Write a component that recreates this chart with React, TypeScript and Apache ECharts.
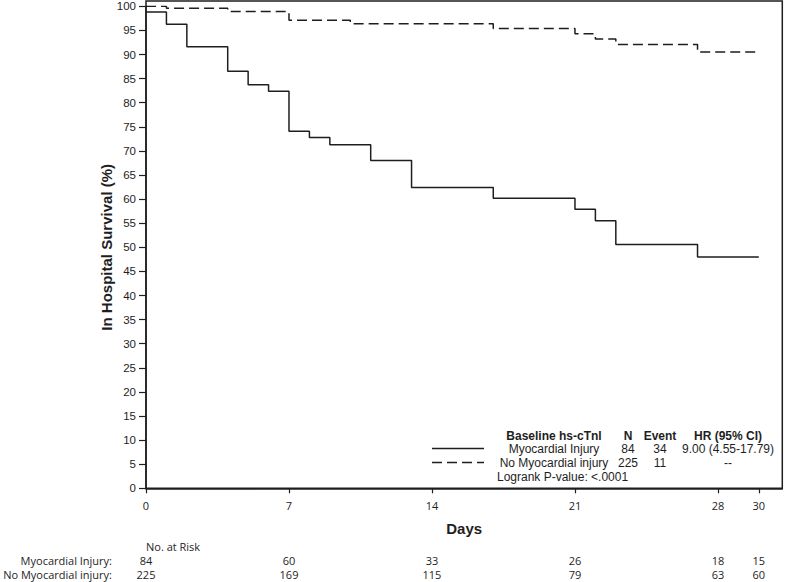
import React, { useEffect, useRef } from "react";
import * as echarts from "echarts";

// Kaplan-Meier steps: day at which the survival (%) takes the given value
const injuryDays = [0, 1, 2, 4, 5, 6, 7, 8, 9, 11, 13, 17, 21, 22, 23, 27, 30];
const injurySurvival = [98.8, 96.3, 91.6, 86.5, 83.7, 82.4, 74.1, 72.8, 71.3, 68.0, 62.4, 60.2, 57.9, 55.5, 50.6, 48.0, 48.0];

const noInjuryDays = [0, 1, 4, 7, 10, 17, 21, 22, 23, 27, 30];
const noInjurySurvival = [100, 99.6, 98.9, 97.1, 96.4, 95.4, 94.3, 93.2, 92.1, 90.5, 90.5];

// Number at risk table
const riskDays = [0, 7, 14, 21, 28, 30];
const riskInjury = [84, 60, 33, 26, 18, 15];
const riskNoInjury = [225, 169, 115, 79, 63, 60];

// Legend table
const groupNames = ["Myocardial Injury", "No Myocardial injury"];
const groupN = ["84", "225"];
const groupEvents = ["34", "11"];
const groupHR = ["9.00 (4.55-17.79)", "--"];
const legendHeader = ["Baseline hs-cTnl", "N", "Event", "HR (95% CI)"];
const logrankText = "Logrank P-value: <.0001";

const INK = "#1e1e1e";
const ARIAL = "Liberation Sans, Arial, sans-serif";
const TAHOMA = "Open Sans, sans-serif";

export default function App() {
  const ref = useRef<HTMLDivElement>(null);

  useEffect(() => {
    if (!ref.current) return;
    const chart = echarts.init(ref.current, null, { renderer: "svg" });

    const riskAxis = (values: number[], name: string, offset: number) => ({
      type: "value",
      gridIndex: 0,
      position: "bottom",
      offset,
      min: 0,
      max: 31.15,
      name,
      nameLocation: "start",
      nameGap: 34,
      nameTextStyle: { fontFamily: TAHOMA, fontSize: 11, color: INK, align: "right", verticalAlign: "middle" },
      axisLine: { show: false },
      axisTick: { show: false },
      splitLine: { show: false },
      axisLabel: {
        customValues: riskDays,
        margin: 0,
        verticalAlign: "middle",
        fontFamily: TAHOMA,
        fontSize: 11,
        color: INK,
        formatter: (v: number) => {
          const i = riskDays.indexOf(Math.round(v));
          return i >= 0 ? String(values[i]) : "";
        },
      },
    });

    const legendColX = [554, 628, 660, 728];
    const headerY = 436;
    const rowY = [449, 463];

    const legendGraphics: any[] = [];
    legendHeader.forEach((t, i) => {
      legendGraphics.push({
        type: "text",
        x: legendColX[i],
        y: headerY,
        style: { text: t, fontFamily: ARIAL, fontSize: 12, fontWeight: "bold", fill: INK, align: "center", verticalAlign: "middle" },
      });
    });
    groupNames.forEach((name, r) => {
      const cells = [name, groupN[r], groupEvents[r], groupHR[r]];
      cells.forEach((t, i) => {
        legendGraphics.push({
          type: "text",
          x: legendColX[i],
          y: rowY[r],
          style: { text: t, fontFamily: ARIAL, fontSize: 12, fill: INK, align: "center", verticalAlign: "middle" },
        });
      });
      legendGraphics.push({
        type: "line",
        shape: { x1: 432, y1: rowY[r] - 0.5, x2: 484, y2: rowY[r] - 0.5 },
        style: { stroke: INK, lineWidth: 1.3, lineDash: r === 1 ? [10, 5] : null },
      });
    });
    legendGraphics.push({
      type: "text",
      x: 497,
      y: 477,
      style: { text: logrankText, fontFamily: ARIAL, fontSize: 12, fill: INK, align: "left", verticalAlign: "middle" },
    });

    chart.setOption({
      animation: false,
      backgroundColor: "#ffffff",
      grid: { left: 146, right: 2.7, top: 6.3, bottom: 93.7, containLabel: false },
      xAxis: [
        {
          type: "value",
          min: 0,
          max: 31.15,
          name: "Days",
          nameLocation: "middle",
          nameGap: 33,
          nameTextStyle: { fontFamily: ARIAL, fontSize: 15, fontWeight: "bold", color: INK },
          axisLine: { show: true, lineStyle: { color: INK, width: 1.5 } },
          axisTick: { show: true, customValues: riskDays, length: 5, lineStyle: { color: INK, width: 1.2 } },
          splitLine: { show: false },
          axisLabel: { customValues: riskDays, margin: 12, fontFamily: TAHOMA, fontSize: 11, color: INK },
        },
        riskAxis(riskInjury, "Myocardial Injury:", 72.4),
        riskAxis(riskNoInjury, "No Myocardial injury:", 86),
      ],
      yAxis: {
        type: "value",
        min: 0,
        max: 100,
        interval: 5,
        name: "In Hospital Survival (%)",
        nameLocation: "middle",
        nameGap: 32,
        nameMoveOverlap: false,
        nameTextStyle: { fontFamily: ARIAL, fontSize: 15, fontWeight: "bold", color: INK },
        axisLine: { show: true, lineStyle: { color: INK, width: 1.5 } },
        axisTick: { show: true, length: 7, lineStyle: { color: INK, width: 1.2 } },
        splitLine: { show: false },
        axisLabel: { margin: 10, fontFamily: ARIAL, fontSize: 11.5, color: INK },
      },
      series: [
        {
          type: "line",
          name: groupNames[0],
          step: "end",
          symbol: "none",
          data: injuryDays.map((d, i) => [d, injurySurvival[i]]),
          lineStyle: { color: INK, width: 1.5 },
        },
        {
          type: "line",
          name: groupNames[1],
          step: "end",
          symbol: "none",
          data: noInjuryDays.map((d, i) => [d, noInjurySurvival[i]]),
          lineStyle: { color: INK, width: 1.5, type: [10, 5] },
        },
      ],
      graphic: [
        {
          type: "rect",
          shape: { x: 146, y: 1, width: 636.3, height: 487.3 },
          style: { fill: "none", stroke: INK, lineWidth: 1.5 },
          silent: true,
        },
        {
          type: "text",
          x: 146,
          y: 546,
          style: { text: "No. at Risk", fontFamily: TAHOMA, fontSize: 11, fill: INK, align: "left", verticalAlign: "middle" },
        },
        ...legendGraphics,
      ],
    });

    return () => chart.dispose();
  }, []);

  return (
    <div
      ref={ref}
      style={{ position: "absolute", left: 0, top: 0, width: 785, height: 582, background: "#fff" }}
    />
  );
}
